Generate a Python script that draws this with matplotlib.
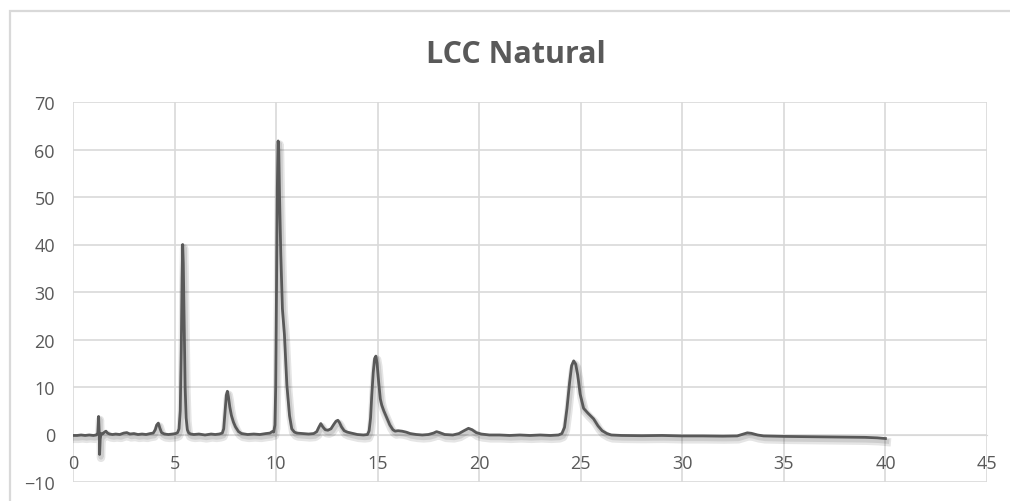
import numpy as np
import matplotlib
matplotlib.use('Agg')
import matplotlib.pyplot as plt
import matplotlib.patheffects as pe
from matplotlib.patches import Rectangle

plt.rcParams['font.family'] = ['Open Sans', 'DejaVu Sans']

#Retention time / [min]
time = [0.0, 0.2, 0.4, 0.6, 0.8, 1.0, 1.15, 1.22, 1.26, 1.29, 1.31, 1.34, 1.38, 1.45, 1.55,
        1.62, 1.70, 1.80, 1.95, 2.1, 2.3, 2.5, 2.65, 2.8, 3.0, 3.2, 3.4, 3.6, 3.8, 3.95,
        4.05, 4.12, 4.2, 4.28, 4.36, 4.5, 4.7, 4.9, 5.05, 5.15, 5.22, 5.28, 5.33, 5.37, 5.40,
        5.43, 5.47, 5.52, 5.57, 5.63, 5.70, 5.80, 5.95, 6.2, 6.5, 6.8, 7.0, 7.2, 7.35, 7.42,
        7.49, 7.55, 7.60, 7.65, 7.72, 7.80, 7.90, 8.0, 8.15, 8.3, 8.6, 8.9, 9.2, 9.5, 9.7,
        9.8, 9.88, 9.94, 9.98, 10.02, 10.06, 10.10, 10.13, 10.17, 10.23, 10.31, 10.41, 10.53, 10.66, 10.77,
        10.9, 11.02, 11.3, 11.6, 11.85, 12.0, 12.1, 12.2, 12.3, 12.42, 12.55, 12.7, 12.85, 12.95, 13.04,
        13.12, 13.22, 13.35, 13.5, 13.7, 14.0, 14.3, 14.5, 14.58, 14.65, 14.71, 14.78, 14.85, 14.91, 14.97,
        15.05, 15.13, 15.2, 15.3, 15.45, 15.6, 15.75, 15.86, 16.0, 16.2, 16.4, 16.6, 16.9, 17.2, 17.5,
        17.75, 17.9, 18.05, 18.3, 18.7, 19.0, 19.25, 19.47, 19.65, 19.85, 20.1, 20.5, 21.0, 21.5, 22.0,
        22.5, 23.0, 23.5, 23.9, 24.07, 24.2, 24.32, 24.45, 24.55, 24.65, 24.75, 24.85, 24.97, 25.14, 25.35,
        25.63, 25.85, 26.05, 26.29, 26.5, 27.0, 28.0, 29.0, 30.0, 31.0, 32.0, 32.7, 33.0, 33.2, 33.4,
        33.7, 34.0, 35.0, 36.0, 37.0, 38.0, 39.0, 39.6, 40.0]

#Detector signal
signal = [-0.2, -0.2, -0.1, -0.2, -0.1, -0.2, -0.1, 0.3, 3.8, 0.5, -4.2, -1.0, 0.2, 0.1, 0.5,
          0.7, 0.3, 0.1, 0.0, 0.1, 0.0, 0.3, 0.4, 0.1, 0.2, 0.0, 0.1, 0.0, 0.2, 0.3,
          1.0, 2.0, 2.4, 1.3, 0.4, 0.1, 0.0, 0.1, 0.2, 0.4, 1.2, 5.0, 18.0, 33.0, 40.0,
          36.0, 24.0, 10.0, 3.5, 1.0, 0.3, 0.1, 0.0, 0.1, -0.1, 0.1, 0.0, 0.1, 0.3, 1.2,
          5.0, 8.3, 9.1, 8.0, 5.8, 4.0, 2.6, 1.6, 0.6, 0.2, 0.0, 0.1, 0.0, 0.2, 0.3,
          0.6, 0.5, 2.0, 10.0, 30.0, 52.0, 61.8, 60.0, 50.0, 38.0, 26.5, 21.0, 10.4, 4.0, 1.2,
          0.5, 0.3, 0.2, 0.1, 0.2, 0.6, 1.5, 2.3, 1.6, 1.0, 0.9, 1.2, 2.2, 2.8, 3.0,
          2.5, 1.6, 0.8, 0.5, 0.3, 0.0, -0.1, 0.0, 0.8, 3.5, 8.3, 13.0, 16.0, 16.5, 15.0,
          11.0, 7.5, 6.2, 5.0, 3.5, 2.0, 1.0, 0.7, 0.8, 0.7, 0.5, 0.2, 0.0, -0.1, 0.0,
          0.3, 0.6, 0.4, 0.0, -0.1, 0.2, 0.8, 1.3, 1.0, 0.4, 0.1, -0.1, -0.1, -0.2, -0.1,
          -0.2, -0.1, -0.2, -0.1, 0.2, 1.5, 5.5, 11.0, 14.5, 15.5, 14.8, 12.5, 8.5, 5.5, 4.5,
          3.3, 1.8, 0.8, 0.2, -0.1, -0.2, -0.25, -0.2, -0.3, -0.3, -0.35, -0.3, 0.1, 0.35, 0.25,
          -0.1, -0.3, -0.4, -0.45, -0.5, -0.55, -0.6, -0.7, -0.85]

x_ticks = np.arange(0, 50, 5)
y_ticks = np.arange(-10, 80, 10)

grey_txt = '#595959'
grey_grid = '#d9d9d9'

fig = plt.figure(figsize=(10.1, 5.02), dpi=100)
ax = fig.add_axes([73/1010, 1-483/502, 914/1010, 380/502])

#Chart frame
fig.patches.append(Rectangle((10/1010, -0.1), 1.2, 1.1-12/502, transform=fig.transFigure,
                             fill=False, edgecolor=grey_grid, linewidth=1.6))

#Trace with a soft drop shadow
ax.plot(time, signal, color=grey_txt, linewidth=2.0, solid_joinstyle='round',
        path_effects=[pe.SimpleLineShadow(offset=(1, -2.5), shadow_color='k', alpha=0.10, linewidth=6),
                      pe.SimpleLineShadow(offset=(1, -2.0), shadow_color='k', alpha=0.10, linewidth=3.5),
                      pe.Normal()], zorder=3)

ax.set_xlim(0, 45)
ax.set_ylim(-10, 70)
ax.set_xticks(x_ticks)
ax.set_yticks(y_ticks)
ax.grid(True, color=grey_grid, linewidth=1.2)
ax.set_axisbelow(True)
for s in ['top', 'right', 'left']:
    ax.spines[s].set_visible(False)
ax.spines['bottom'].set_position(('data', 0))
ax.spines['bottom'].set_color(grey_grid)
ax.tick_params(axis='both', length=0, labelsize=13, labelcolor=grey_txt)
ax.tick_params(axis='x', pad=14)
ax.tick_params(axis='y', pad=13)

fig.text(516/1010, 1-63.3/502, 'LCC Natural', ha='center', va='baseline',
         fontsize=22, fontweight='bold', color=grey_txt)

plt.savefig('out.png', dpi=100)
